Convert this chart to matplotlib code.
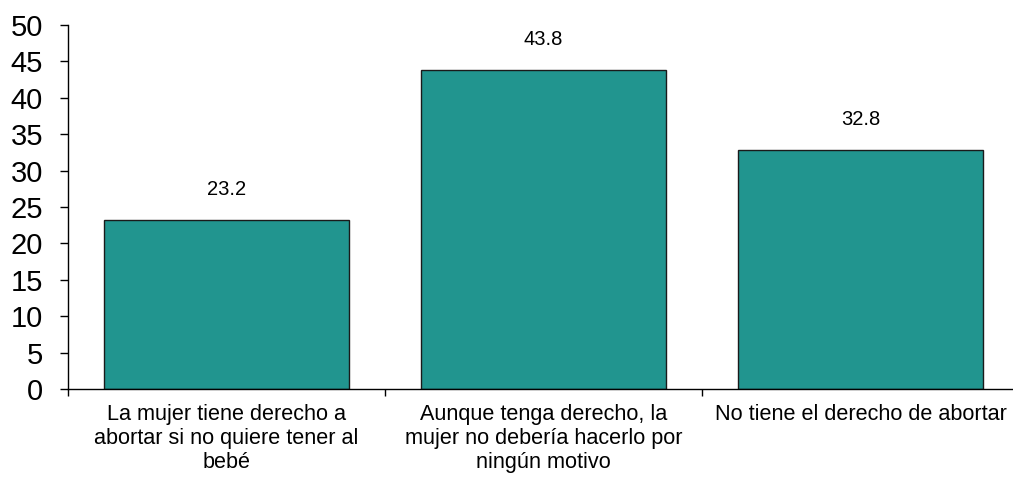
import matplotlib
matplotlib.use("Agg")
import matplotlib.pyplot as plt

categories = [
    "La mujer tiene derecho a\nabortar si no quiere tener al\nbebé",
    "Aunque tenga derecho, la\nmujer no debería hacerlo por\nningún motivo",
    "No tiene el derecho de abortar",
]
values = [23.2, 43.8, 32.8]
yticks = list(range(0, 51, 5))

plt.rcParams["font.family"] = ["Liberation Sans", "DejaVu Sans"]

fig = plt.figure(figsize=(10.13, 4.88), dpi=100)
ax = fig.add_axes([68 / 1013, 1 - 389 / 488, (1019 - 68) / 1013, (389 - 25) / 488])

x = list(range(len(categories)))
ax.bar(x, values, width=0.77, color="#21958F", edgecolor="#1a1a1a", linewidth=1.0)

for xi, v in zip(x, values):
    ax.annotate(f"{v:.1f}", (xi, v), xytext=(0, 22), textcoords="offset points",
                ha="center", va="center", fontsize=14.5)

ax.set_xlim(-0.5, 2.5)
ax.set_ylim(0, 50)
ax.set_yticks(yticks)
ax.tick_params(axis="y", labelsize=21, length=6, width=1, pad=12)

# category ticks sit between the bars, labels centred under them
ax.set_xticks([-0.5, 0.5, 1.5, 2.5])
ax.set_xticklabels([])
ax.set_xticks(x, minor=True)
ax.set_xticklabels(categories, minor=True, fontsize=15.6, linespacing=1.17)
ax.tick_params(axis="x", which="major", length=5, width=1)
ax.tick_params(axis="x", which="minor", length=0, pad=11)

ax.spines["top"].set_visible(False)
ax.spines["right"].set_visible(False)
for s in ("left", "bottom"):
    ax.spines[s].set_linewidth(1.0)

fig.savefig("out.png", dpi=100)
